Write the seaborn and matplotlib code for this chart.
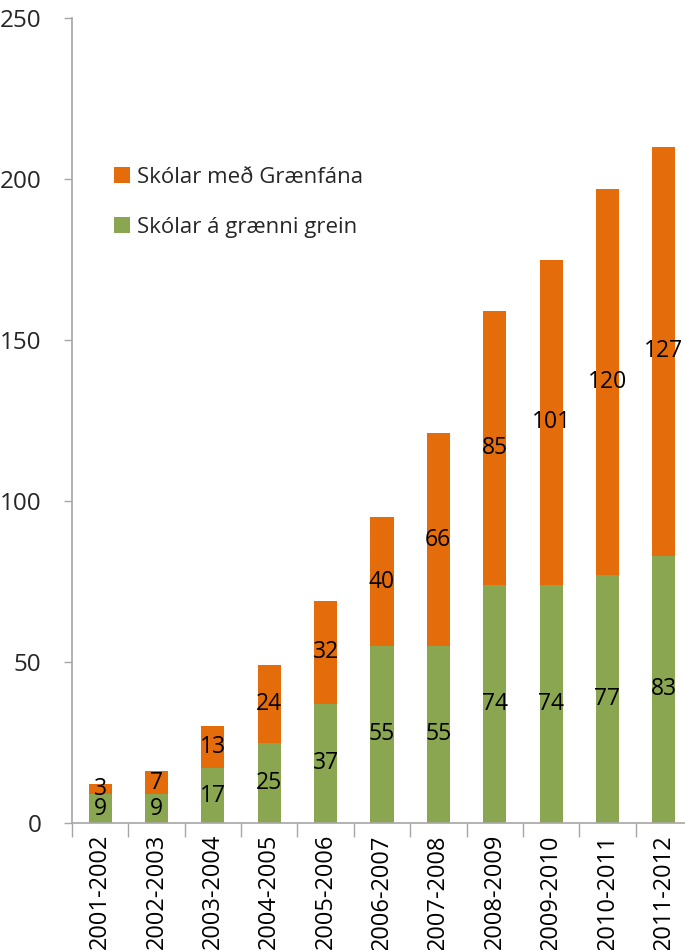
import numpy as np
import pandas as pd
import seaborn as sns
import matplotlib.pyplot as plt

# data
years = ["2001-2002", "2002-2003", "2003-2004", "2004-2005", "2005-2006", "2006-2007",
         "2007-2008", "2008-2009", "2009-2010", "2010-2011", "2011-2012"]
graen_grein = [9, 9, 17, 25, 37, 55, 55, 74, 74, 77, 83]      # Skólar á grænni grein
graenfani = [3, 7, 13, 24, 32, 40, 66, 85, 101, 120, 127]     # Skólar með Grænfána

df = pd.DataFrame({"ar": years, "grein": graen_grein, "fani": graenfani})
df["samtals"] = df["grein"] + df["fani"]

sns.set_theme(style="white")
plt.rcParams['font.family'] = ['Open Sans', 'DejaVu Sans']

orange = '#E46C0A'
green = '#8BA650'
axis_grey = '#A6A6A6'

fig = plt.figure(figsize=(6.85, 9.5), dpi=100)
ax = fig.add_axes([72 / 685, 127 / 950, 620 / 685, 805 / 950])

# orange = total height, green drawn over it -> stacked
sns.barplot(data=df, x="ar", y="samtals", color=orange, width=0.41, saturation=1,
            linewidth=0, ax=ax, label="Skólar með Grænfána")
sns.barplot(data=df, x="ar", y="grein", color=green, width=0.41, saturation=1,
            linewidth=0, ax=ax, label="Skólar á grænni grein")

# segment labels
for i, row in df.iterrows():
    ax.text(i, row["grein"] / 2, str(row["grein"]), ha='center', va='center',
            fontsize=16.5, color='black')
    ax.text(i, row["grein"] + row["fani"] / 2, str(row["fani"]), ha='center', va='center',
            fontsize=16.5, color='black')

ax.set_ylim(0, 250)
ax.set_yticks(range(0, 251, 50))
ax.set_xlim(-0.5, 10.5)
ax.set_xlabel("")
ax.set_ylabel("")

ax.tick_params(axis='y', labelsize=17.5, colors='#262626', direction='out', length=6,
               width=1, color=axis_grey, left=True, pad=16)
ax.tick_params(axis='x', which='major', labelsize=17, labelrotation=90, length=0,
               labelcolor='black', pad=8)
ax.set_xticks(np.arange(-0.5, len(years), 1), minor=True)
ax.tick_params(axis='x', which='minor', direction='out', length=10, color=axis_grey,
               bottom=True)

sns.despine(ax=ax, top=True, right=True)
for s in ['left', 'bottom']:
    ax.spines[s].set_color(axis_grey)
    ax.spines[s].set_linewidth(1.2)

ax.legend(loc='upper left', bbox_to_anchor=(0.035, 0.84), frameon=False, fontsize=16,
          handlelength=0.75, handleheight=0.75, handletextpad=0.3, labelspacing=1.3)

plt.savefig("out.png", dpi=100)
